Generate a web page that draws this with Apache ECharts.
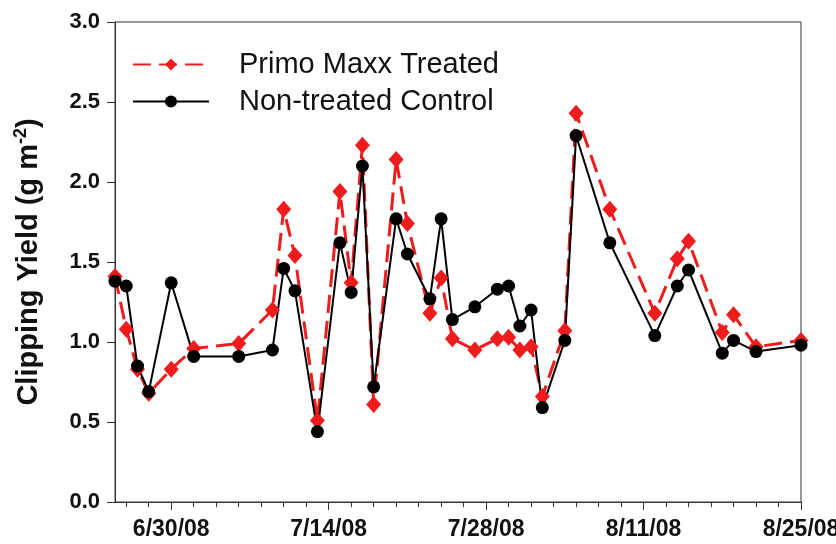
<!DOCTYPE html>
<html>
<head>
<meta charset="utf-8">
<script src="https://cdn.jsdelivr.net/npm/echarts@6/dist/echarts.min.js"></script>
<style>
    html, body { margin: 0; padding: 0; background: #fff; }
    #chart { width: 836px; height: 544px; }
</style>
</head>
<body>
<div id="chart"></div>
<script>
// sampling dates (M/D/YY)
const sampleDates = [
    "6/25/08", "6/26/08", "6/27/08", "6/28/08", "6/30/08", "7/2/08", "7/6/08", "7/9/08",
    "7/10/08", "7/11/08", "7/13/08", "7/15/08", "7/16/08", "7/17/08", "7/18/08", "7/20/08",
    "7/21/08", "7/23/08", "7/24/08", "7/25/08", "7/27/08", "7/29/08", "7/30/08", "7/31/08",
    "8/1/08", "8/2/08", "8/4/08", "8/5/08", "8/8/08", "8/12/08", "8/14/08", "8/15/08",
    "8/18/08", "8/19/08", "8/21/08", "8/25/08"
];
const primoMaxx = [
    1.41, 1.08, 0.83, 0.68, 0.83, 0.96, 0.99, 1.20,
    1.83, 1.54, 0.51, 1.94, 1.37, 2.23, 0.61, 2.14,
    1.74, 1.18, 1.40, 1.02, 0.95, 1.02, 1.03, 0.95,
    0.97, 0.66, 1.07, 2.43, 1.83, 1.18, 1.52, 1.63,
    1.06, 1.17, 0.97, 1.01
];
const control = [
    1.38, 1.35, 0.85, 0.69, 1.37, 0.91, 0.91, 0.95,
    1.46, 1.32, 0.44, 1.62, 1.31, 2.10, 0.72, 1.77,
    1.55, 1.27, 1.77, 1.14, 1.22, 1.33, 1.35, 1.10,
    1.20, 0.59, 1.01, 2.29, 1.62, 1.04, 1.35, 1.45,
    0.93, 1.01, 0.94, 0.98
];
const axisStart = "6/25/08";
const axisEnd = "8/25/08";
const labelDates = ["6/30/08", "7/14/08", "7/28/08", "8/11/08", "8/25/08"];

function toTime(text) {
    const [m, d, y] = text.split("/").map(Number);
    return new Date(2000 + y, m - 1, d).getTime();
}

function fmtDate(value) {
    const d = new Date(value);
    return `${d.getMonth() + 1}/${d.getDate()}/${String(d.getFullYear()).slice(2)}`;
}

const DAY = 86400000;
const minT = toTime(axisStart);
const maxT = toTime(axisEnd);
const majorTicks = labelDates.map(toTime);
// small ticks every second day, lined up with the labelled ones
const minorTicks = [];
for (let t = majorTicks[0]; t >= minT; t -= 2 * DAY) minorTicks.push(t);
for (let t = majorTicks[0] + 2 * DAY; t <= maxT + DAY / 2; t += 2 * DAY) minorTicks.push(t);

const font = "'Liberation Sans', Arial, sans-serif";
const axisColor = "#333";

const chart = echarts.init(document.getElementById("chart"));
chart.setOption({
    animation: false,
    textStyle: {fontFamily: font},
    grid: {
        left: 115, right: 35, top: 22, bottom: 42,
        outerBoundsMode: "none",
        show: true, borderColor: axisColor, borderWidth: 1
    },
    legend: {
        orient: "vertical",
        left: 132,
        top: 50,
        padding: 0,
        itemWidth: 76,
        itemHeight: 15,
        itemGap: 8,
        textStyle: {fontSize: 29, color: "#111", fontFamily: font, padding: [0, 0, 0, 25], lineHeight: 29},
        data: ["Primo Maxx Treated", "Non-treated Control"]
    },
    xAxis: [{
        type: "value",
        position: "bottom",
        min: minT,
        max: maxT,
        axisLine: {lineStyle: {color: axisColor, width: 1}},
        axisTick: {customValues: majorTicks, length: 8, lineStyle: {color: axisColor}},
        axisLabel: {
            customValues: majorTicks,
            formatter: value => fmtDate(value),
            fontSize: 23,
            fontWeight: "bold",
            color: "#111",
            margin: 16,
            hideOverlap: false
        },
        splitLine: {show: false}
    }, {
        type: "value",
        position: "bottom",
        min: minT,
        max: maxT,
        axisLine: {show: false},
        axisTick: {customValues: minorTicks, length: 5, lineStyle: {color: axisColor}},
        axisLabel: {show: false},
        splitLine: {show: false}
    }],
    yAxis: {
        type: "value",
        min: 0,
        max: 3,
        interval: 0.5,
        name: "{a|Clipping Yield (g m}{s|-2}{a|)}",
        nameLocation: "middle",
        nameGap: 69,
        nameTextStyle: {
            rich: {
                a: {fontSize: 29, fontWeight: "bold", color: "#111", fontFamily: font},
                s: {fontSize: 18, fontWeight: "bold", color: "#111", fontFamily: font, padding: [0, 0, 16, 0]}
            }
        },
        axisLine: {show: true, lineStyle: {color: axisColor, width: 1}},
        axisTick: {show: true, length: 8, lineStyle: {color: axisColor}},
        axisLabel: {
            formatter: value => value.toFixed(1),
            fontSize: 22,
            fontWeight: "bold",
            color: "#111",
            margin: 15
        },
        splitLine: {show: false}
    },
    series: [{
        name: "Primo Maxx Treated",
        type: "line",
        data: sampleDates.map((d, i) => [toTime(d), primoMaxx[i]]),
        symbol: "diamond",
        symbolSize: [15, 17],
        itemStyle: {color: "#ee1c1c"},
        lineStyle: {color: "#ee1c1c", width: 3, type: [18, 8]}
    }, {
        name: "Non-treated Control",
        type: "line",
        data: sampleDates.map((d, i) => [toTime(d), control[i]]),
        symbol: "circle",
        symbolSize: 13,
        itemStyle: {color: "#000"},
        lineStyle: {color: "#000", width: 2}
    }]
});
</script>
</body>
</html>
